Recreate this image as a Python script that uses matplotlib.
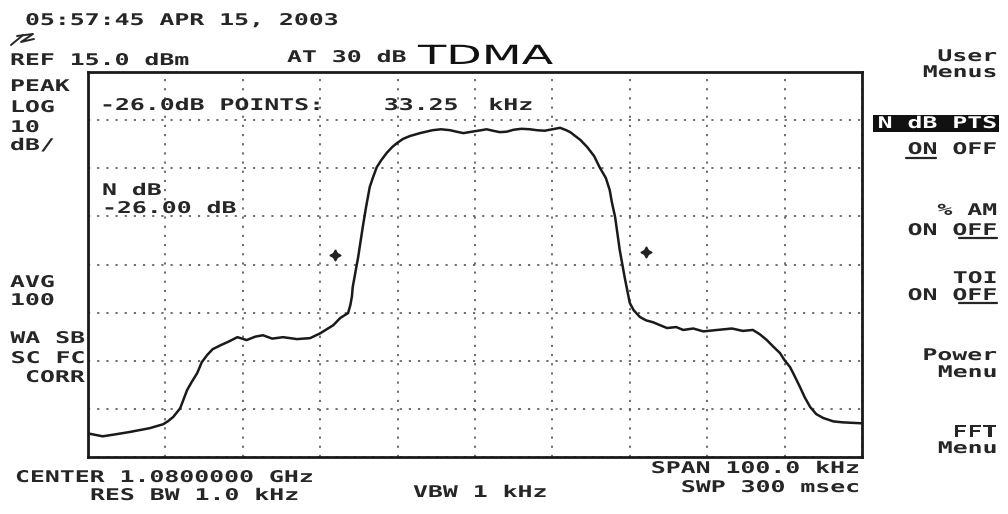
import matplotlib
matplotlib.use("Agg")
import matplotlib.pyplot as plt
import numpy as np
from matplotlib.patheffects import AbstractPathEffect
from matplotlib.transforms import Affine2D
from matplotlib.patches import Rectangle
from matplotlib.lines import Line2D

# ---------------- data ----------------
freq_khz = [-50.0, -48.1, -46.5, -44.6, -42.0, -40.3, -39.7, -39.0, -38.5, -38.1,
            -37.6, -37.2, -36.6, -35.9, -35.3, -34.6, -33.9, -32.9, -31.8, -30.7,
            -29.5, -28.4, -27.4, -26.2, -24.8, -23.0, -21.3, -20.0, -18.3, -17.4,
            -16.8, -16.4, -16.1, -15.9, -15.8, -15.1, -14.5, -14.1, -13.6, -13.2,
            -12.7, -12.1, -11.4, -10.7, -10.1, -9.3, -8.4, -7.1, -6.3, -5.5,
            -4.4, -3.2, -2.4, -1.5, 0.0, 0.8, 1.5, 2.3, 3.2, 4.1,
            5.0, 6.0, 7.1, 8.0, 9.0, 10.0, 11.0, 11.8, 12.3, 13.6,
            14.5, 15.4, 16.1, 16.9, 17.4, 17.7, 18.1, 18.7, 19.4, 20.0,
            20.5, 21.3, 22.1, 23.0, 24.8, 26.0, 26.9, 28.2, 29.5, 31.3,
            33.2, 34.6, 35.9, 36.8, 37.7, 38.5, 39.4, 40.0, 40.7, 41.3,
            42.0, 42.6, 43.3, 44.1, 45.0, 46.3, 47.5, 50.0]
level_dbm = [-60.1, -60.7, -60.3, -59.8, -59.0, -58.2, -57.6, -56.7, -55.7, -54.9,
             -52.8, -51.1, -49.4, -47.6, -45.3, -43.8, -42.6, -41.8, -41.0, -40.1,
             -40.7, -40.0, -39.7, -40.4, -40.1, -40.5, -40.3, -39.3, -37.6, -36.1,
             -35.5, -35.1, -33.4, -31.6, -29.7, -23.5, -17.2, -13.3, -8.9, -7.0,
             -4.8, -3.3, -1.8, -0.6, 0.2, 1.1, 1.7, 2.3, 2.6, 2.9,
             3.1, 2.9, 2.6, 2.3, 2.7, 2.9, 3.1, 2.8, 2.5, 2.6,
             3.0, 3.2, 3.1, 2.9, 2.8, 3.1, 3.4, 2.9, 2.5, 0.9,
             -0.6, -2.5, -4.8, -7.0, -9.5, -12.2, -15.1, -22.0, -28.2, -33.0,
             -34.5, -35.9, -36.6, -37.0, -38.2, -38.0, -38.6, -38.3, -38.9, -38.6,
             -38.3, -38.8, -38.6, -39.5, -40.7, -42.0, -43.4, -44.9, -46.3, -48.2,
             -50.5, -52.6, -54.6, -56.1, -56.9, -57.6, -57.8, -58.0]
marker_khz = [-18.1, 22.1]
marker_dbm = [-23.0, -22.5]

ref_level_dbm = 15.0
db_per_div = 10
n_ydiv = 8
center_khz = 0.0
span_khz = 100.0

header_lines = ["05:57:45 APR 15, 2003", "REF 15.0 dBm", "AT 30 dB"]
left_labels = ["PEAK", "LOG", "10", "dB/", "AVG", "100"]
corr_labels = ["WA SB", "SC FC", "CORR"]
ndb_lines = ["-26.0dB POINTS:    33.25  kHz", "N dB", "-26.00 dB"]
bottom_left = ["CENTER 1.0800000 GHz", "RES BW 1.0 kHz"]
bottom_mid = "VBW 1 kHz"
bottom_right = ["SPAN 100.0 kHz", "SWP 300 msec"]
menu_labels = ["User", "Menus", "N dB PTS", "ON OFF", "% AM", "ON OFF",
               "TOI", "ON OFF", "Power", "Menu", "FFT", "Menu"]
note_text = "TDMA"

# ---------------- helpers ----------------
W, H = 1008, 514
INK = "#262626"


class HStretch(AbstractPathEffect):
    """Widen glyphs horizontally (printer font of the analyzer is wide)."""

    def __init__(self, sx, anchor="left"):
        super().__init__()
        self.sx = sx
        self.anchor = anchor

    def draw_path(self, renderer, gc, tpath, affine, rgbFace=None):
        if self.anchor == "right":
            x1 = tpath.get_extents().x1
            pre = Affine2D().translate(-x1, 0).scale(self.sx, 1).translate(x1, 0)
        else:
            pre = Affine2D().scale(self.sx, 1)
        renderer.draw_path(gc, tpath, pre + affine, rgbFace)


fig = plt.figure(figsize=(W / 100, H / 100), dpi=100)
fig.patch.set_facecolor("white")


def label(x, y, s, ha="left", color=INK, size=11.6, sx=1.54,
          family="DejaVu Sans Mono", weight="bold"):
    fig.text(x / W, 1 - y / H, s, ha=ha, va="baseline", color=color,
             fontsize=size, family=family, fontweight=weight,
             path_effects=[HStretch(sx, ha)])


def fline(xs, ys, lw=1.5, color=INK):
    fig.add_artist(Line2D([x / W for x in xs], [1 - y / H for y in ys],
                          transform=fig.transFigure, lw=lw, color=color,
                          solid_capstyle="round"))


# ---------------- graticule and trace ----------------
L, R, T, B = 88, 862, 72, 457
ax = fig.add_axes([L / W, 1 - B / H, (R - L) / W, (B - T) / H])
ax.set_xlim(center_khz - span_khz / 2, center_khz + span_khz / 2)
ax.set_ylim(ref_level_dbm - n_ydiv * db_per_div, ref_level_dbm)
ax.set_xticks(np.linspace(center_khz - span_khz / 2, center_khz + span_khz / 2, 11))
ax.set_yticks(np.arange(ref_level_dbm - n_ydiv * db_per_div, ref_level_dbm + 1, db_per_div))
ax.tick_params(length=0, labelbottom=False, labelleft=False)
ax.grid(True, linestyle=(0, (1.3, 4.2)), linewidth=1.2, color="#555555")
for sp in ax.spines.values():
    sp.set_linewidth(2.0)
    sp.set_color("#1a1a1a")
ax.set_facecolor("white")

ax.plot(freq_khz, level_dbm, color="#1a1a1a", lw=1.8, zorder=3,
        solid_joinstyle="round")
ax.plot(marker_khz, marker_dbm, ls="none", marker=(4, 1, 0), ms=8,
        color="#222222", zorder=4)

# ---------------- text around the screen ----------------
label(25, 25, header_lines[0])
label(10, 65, header_lines[1])
label(287, 62, header_lines[2])

# handwritten pen marks
fline([11, 23], [45, 35], lw=1.4)
fline([17, 33, 21, 34], [36, 34, 42, 39], lw=1.4)
label(418, 64, note_text, family="DejaVu Sans", weight="normal", size=19,
      sx=1.75, color="#111111")

# left annotation column
for s, y in zip(left_labels, [91, 112, 132, 150, 287, 305]):
    label(10, y, s)
for s, y in zip(corr_labels, [343, 363, 382]):
    label(85, y, s, ha="right")

# inside the screen
label(100, 110, ndb_lines[0])
label(102, 195, ndb_lines[1])
label(102, 213, ndb_lines[2])

# bottom
label(15, 482, bottom_left[0])
label(90, 500, bottom_left[1])
label(413, 497, bottom_mid)
label(860, 473, bottom_right[0], ha="right")
label(860, 492, bottom_right[1], ha="right")

# ---------------- softkey menu ----------------
MR = 997
label(MR, 61, menu_labels[0], ha="right")
label(MR, 77, menu_labels[1], ha="right")
fig.add_artist(Rectangle((873 / W, 1 - 132 / H), (999 - 873) / W, 17 / H,
                         transform=fig.transFigure, facecolor="#111111",
                         edgecolor="none"))
label(MR, 128, menu_labels[2], ha="right", color="white")
label(MR, 154, menu_labels[3], ha="right")
fline([906, 936], [158, 158], lw=1.6)
label(MR, 215, menu_labels[4], ha="right")
label(MR, 235, menu_labels[5], ha="right")
fline([959, 997], [238, 238], lw=1.6)
label(MR, 283, menu_labels[6], ha="right")
label(MR, 300, menu_labels[7], ha="right")
fline([959, 997], [303, 303], lw=1.6)
label(MR, 360, menu_labels[8], ha="right")
label(MR, 377, menu_labels[9], ha="right")
label(MR, 437, menu_labels[10], ha="right")
label(MR, 453, menu_labels[11], ha="right")

fig.savefig("out.png", dpi=100, facecolor="white")
